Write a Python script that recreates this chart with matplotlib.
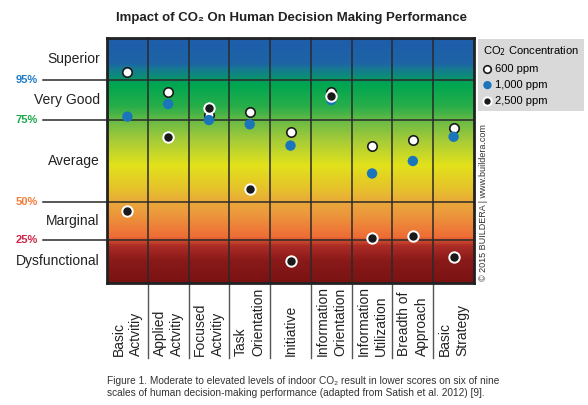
import numpy as np
import matplotlib
matplotlib.use('Agg')
import matplotlib.pyplot as plt
from matplotlib.colors import LinearSegmentedColormap

plt.rcParams['font.family'] = ['Liberation Sans', 'DejaVu Sans']

# data (percentile scores)
categories = ['Basic\nActvitiy', 'Applied\nActvitiy', 'Focused\nActvitiy', 'Task\nOrientation',
              'Initiative', 'Information\nOrientation', 'Information\nUtilization',
              'Breadth of\nApproach', 'Basic\nStrategy']
ppm600 = [96.0, 89.2, 77.5, 79.0, 71.2, 89.2, 67.2, 68.8, 72.5]
ppm1000 = [76.7, 83.0, 75.0, 73.7, 67.2, 85.0, 58.7, 62.5, 69.9]
ppm2500 = [44.1, 69.9, 80.9, 53.9, 13.0, 87.2, 26.1, 27.8, 15.3]
levels = [95, 75, 50, 25]
level_labels = ['95%', '75%', '50%', '25%']
level_colors = ['#1e7bc6', '#1aa84b', '#f47b3a', '#d0264b']
zones = ['Superior', 'Very Good', 'Average', 'Marginal', 'Dysfunctional']
zone_mid = [97.5, 85, 62.5, 37.5, 12.5]

# the picture stretches zones unevenly: piecewise linear scale
pct_bp = [0, 25, 50, 75, 95, 100]
pos_bp = [0, 43, 81, 163, 203, 245]
def fwd(v):
    return np.interp(v, pct_bp, pos_bp)
def inv(p):
    return np.interp(p, pos_bp, pct_bp)

W, H = 588, 405
fig = plt.figure(figsize=(W/100, H/100), dpi=100)
rect = [107/W, (H-283)/H, (474-107)/W, (283-38)/H]

# background gradient
bg = fig.add_axes(rect, zorder=0)
stops = [(0.0, '#7a1212'), (0.09, '#8a1a1a'), (0.15, '#ab2c26'), (0.175, '#d9532f'),
         (0.185, '#ee6c36'), (0.28, '#ec983c'), (0.33, '#eaa93a'), (0.38, '#e6c02c'),
         (0.48, '#e2e21b'), (0.58, '#a8cc37'), (0.66, '#6cbb45'), (0.72, '#2aae4a'),
         (0.81, '#00a650'), (0.826, '#04a05a'), (0.845, '#0c8c78'), (0.875, '#177a92'),
         (0.90, '#1d64a6'), (1.0, '#1f5dab')]
cmap = LinearSegmentedColormap.from_list('zones', stops)
grad = np.linspace(1, 0, 400).reshape(-1, 1)
bg.imshow(grad, cmap=cmap, aspect='auto', extent=(0, 1, 0, 1), vmin=0, vmax=1)
bg.set_axis_off()

ax = fig.add_axes(rect, zorder=1)
ax.set_facecolor('none')
ax.set_yscale('function', functions=(fwd, inv))
ax.set_ylim(0, 100)
ax.set_xlim(-0.5, len(categories) - 0.5)
ax.set_xticks([])
ax.set_yticks([])
ax.minorticks_off()
for s in ax.spines.values():
    s.set_linewidth(2)
    s.set_color('#222222')

x = np.arange(len(categories))
# column dividers, continued down past the plot between the labels
for xv in x[:-1] + 0.5:
    ax.plot([xv, xv], [0, 1], transform=ax.get_xaxis_transform(), color='#2a2a2a',
            lw=1.1, clip_on=False, zorder=2)
    ax.plot([xv, xv], [0, -0.306], transform=ax.get_xaxis_transform(), color='#555555',
            lw=1.0, clip_on=False, zorder=2)

ytr = ax.get_yaxis_transform()
for lv, lb, c in zip(levels, level_labels, level_colors):
    ax.plot([-0.174, 1], [lv, lv], transform=ytr, color='#2a2a2a', lw=1.1,
            clip_on=False, zorder=2)
    ax.text(-0.25, lv, lb, transform=ytr, color=c, fontsize=8, fontweight='bold',
            ha='left', va='center')
for z, m in zip(zones, zone_mid):
    ax.text(-0.02, m, z, transform=ytr, fontsize=10, ha='right', va='center', color='#222222')

ax.scatter(x, ppm600, s=46, facecolor='white', edgecolor='#1a1a1a', linewidth=1.2,
           zorder=3, clip_on=False, label='600 ppm')
ax.scatter(x, ppm1000, s=56, facecolor='#1b75bb', edgecolor='none', zorder=4,
           clip_on=False, label='1,000 ppm')
ax.scatter(x, ppm2500, s=56, facecolor='#1a1a1a', edgecolor='white', linewidth=1.4,
           zorder=5, clip_on=False, label='2,500 ppm')

xtr = ax.get_xaxis_transform()
for xi, cat in zip(x, categories):
    ax.text(xi, -0.30, cat, transform=xtr, rotation=90, ha='center', va='bottom',
            multialignment='left', fontsize=10, linespacing=1.3, color='#222222')

leg = ax.legend(loc='upper left', bbox_to_anchor=(478/W, 1 - 39/H), bbox_transform=fig.transFigure,
                title='CO$_2$ Concentration', fontsize=8, title_fontsize=8, frameon=True,
                fancybox=False, framealpha=1, facecolor='#d9d9d9', edgecolor='none',
                handletextpad=0.25, handlelength=0.8, borderpad=0.45, labelspacing=0.55,
                borderaxespad=0, markerscale=0.8, alignment='left')

fig.text(484/W, 1 - 203/H, '\u00a9 2015 BUILDERA | www.buildera.com', rotation=90,
         ha='center', va='center', fontsize=6.5, color='#333333')

fig.text(292/W, 1 - 18/H, 'Impact of CO\u2082 On Human Decision Making Performance',
         ha='center', va='center', fontsize=9.5, fontweight='bold', color='#222222')

fig.text(107/W, 1 - 387/H,
         'Figure 1. Moderate to elevated levels of indoor CO\u2082 result in lower scores on six of nine\n'
         'scales of human decision-making performance (adapted from Satish et al. 2012) [9].',
         ha='left', va='center', fontsize=7.3, color='#333333', linespacing=1.3)

fig.savefig('out.png', dpi=100)
